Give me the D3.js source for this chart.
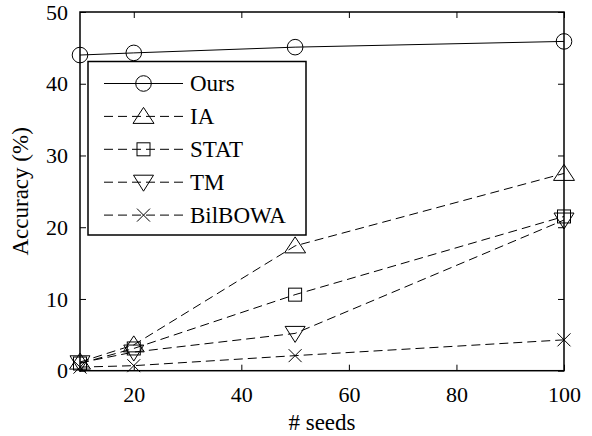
<!DOCTYPE html>
<html>
<head>
<meta charset="utf-8">
<script src="https://cdn.jsdelivr.net/npm/d3@7"></script>
<style>
  body { margin: 0; background: #fff; }
  svg text { font-family: "Liberation Serif", "Times New Roman", Times, serif !important; }
</style>
</head>
<body>
<svg id="chart" width="592" height="436"></svg>
<script>
// data
const seeds = [10, 20, 50, 100];
const ours = [44.0, 44.3, 45.1, 45.9];
const ia = [1.2, 3.6, 17.4, 27.5];
const stat = [1.0, 3.1, 10.6, 21.5];
const tm = [1.1, 2.6, 5.2, 21.0];
const bilbowa = [0.5, 0.7, 2.1, 4.3];

const seriesNames = ["Ours", "IA", "STAT", "TM", "BilBOWA"];
const seriesValues = [ours, ia, stat, tm, bilbowa];
const seriesMarkers = ["circle", "up", "square", "down", "cross"];
const xTicks = [20, 40, 60, 80, 100];
const yTicks = [0, 10, 20, 30, 40, 50];

const FONT = "'Liberation Serif', 'Times New Roman', Times, serif";
const svg = d3.select("#chart");
const plotLeft = 80, plotRight = 564, plotTop = 12, plotBottom = 370.7;

const x = d3.scaleLinear().domain([10, 100]).range([plotLeft, plotRight]);
const y = d3.scaleLinear().domain([0, 50]).range([plotBottom, plotTop]);

// marker drawing
function drawMarker(g, type, cx, cy) {
  if (type === "circle") {
    g.append("circle").attr("cx", cx).attr("cy", cy).attr("r", 7.8)
      .attr("fill", "none").attr("stroke", "#000").attr("stroke-width", 1);
  } else if (type === "up") {
    const w = 10.5, h = 8;
    g.append("path")
      .attr("d", `M${cx},${cy - h - 1} L${cx + w},${cy + h - 1} L${cx - w},${cy + h - 1} Z`)
      .attr("fill", "none").attr("stroke", "#000").attr("stroke-width", 1);
  } else if (type === "down") {
    const w = 10, h = 8;
    g.append("path")
      .attr("d", `M${cx},${cy + h + 1} L${cx + w},${cy - h + 1} L${cx - w},${cy - h + 1} Z`)
      .attr("fill", "none").attr("stroke", "#000").attr("stroke-width", 1);
  } else if (type === "square") {
    const s = 6.5;
    g.append("rect").attr("x", cx - s).attr("y", cy - s).attr("width", 2 * s).attr("height", 2 * s)
      .attr("fill", "none").attr("stroke", "#000").attr("stroke-width", 1);
  } else if (type === "cross") {
    const s = 6.5;
    g.append("path")
      .attr("d", `M${cx - s},${cy - s} L${cx + s},${cy + s} M${cx - s},${cy + s} L${cx + s},${cy - s}`)
      .attr("fill", "none").attr("stroke", "#000").attr("stroke-width", 1);
  }
}

// frame
svg.append("rect")
  .attr("x", plotLeft).attr("y", plotTop)
  .attr("width", plotRight - plotLeft).attr("height", plotBottom - plotTop)
  .attr("fill", "none").attr("stroke", "#000").attr("stroke-width", 1.5);

// axes with inward ticks
svg.append("g")
  .attr("transform", `translate(0,${plotBottom})`)
  .call(d3.axisBottom(x).tickValues(xTicks).tickSize(-6).tickPadding(16))
  .call(g => g.select(".domain").remove())
  .call(g => g.selectAll("text").attr("fill", "#000").style("font-family", FONT).style("font-size", "22px"));

svg.append("g")
  .attr("transform", `translate(0,${plotTop})`)
  .call(d3.axisTop(x).tickValues(xTicks).tickSize(-6).tickFormat(""))
  .call(g => g.select(".domain").remove());

svg.append("g")
  .attr("transform", `translate(${plotLeft},0)`)
  .call(d3.axisLeft(y).tickValues(yTicks).tickSize(-6).tickPadding(12))
  .call(g => g.select(".domain").remove())
  .call(g => g.selectAll("text").attr("fill", "#000").style("font-family", FONT).style("font-size", "22px"));

svg.append("g")
  .attr("transform", `translate(${plotRight},0)`)
  .call(d3.axisRight(y).tickValues(yTicks).tickSize(-6).tickFormat(""))
  .call(g => g.select(".domain").remove());

svg.selectAll(".tick line").attr("stroke", "#000").attr("stroke-width", 1);

// series
const line = d3.line().x((d, i) => x(seeds[i])).y(d => y(d));
seriesValues.forEach((vals, k) => {
  const g = svg.append("g");
  g.append("path")
    .attr("d", line(vals))
    .attr("fill", "none").attr("stroke", "#000").attr("stroke-width", 1)
    .attr("stroke-dasharray", k === 0 ? null : "9,5");
  vals.forEach((v, i) => drawMarker(g, seriesMarkers[k], x(seeds[i]), y(v)));
});

// legend
const lg = svg.append("g");
lg.append("rect")
  .attr("x", 88).attr("y", 61.5).attr("width", 218).attr("height", 173.5)
  .attr("fill", "#fff").attr("stroke", "#000").attr("stroke-width", 1.5);
seriesNames.forEach((name, k) => {
  const cy = 83.5 + k * 32.9;
  lg.append("line")
    .attr("x1", 104).attr("x2", 183).attr("y1", cy).attr("y2", cy)
    .attr("stroke", "#000").attr("stroke-width", 1)
    .attr("stroke-dasharray", k === 0 ? null : "9,5");
  drawMarker(lg, seriesMarkers[k], 143.5, cy);
  lg.append("text")
    .attr("x", 190).attr("y", cy + 7.5)
    .attr("fill", "#000")
    .style("font-family", FONT).style("font-size", "23px")
    .text(name);
});

// axis titles
svg.append("text")
  .attr("x", (plotLeft + plotRight) / 2).attr("y", 430)
  .attr("text-anchor", "middle")
  .style("font-family", FONT).style("font-size", "23px")
  .text("# seeds");

svg.append("text")
  .attr("transform", `translate(28,${(plotTop + plotBottom) / 2}) rotate(-90)`)
  .attr("text-anchor", "middle")
  .style("font-family", FONT).style("font-size", "23px")
  .text("Accuracy (%)");
</script>
</body>
</html>
